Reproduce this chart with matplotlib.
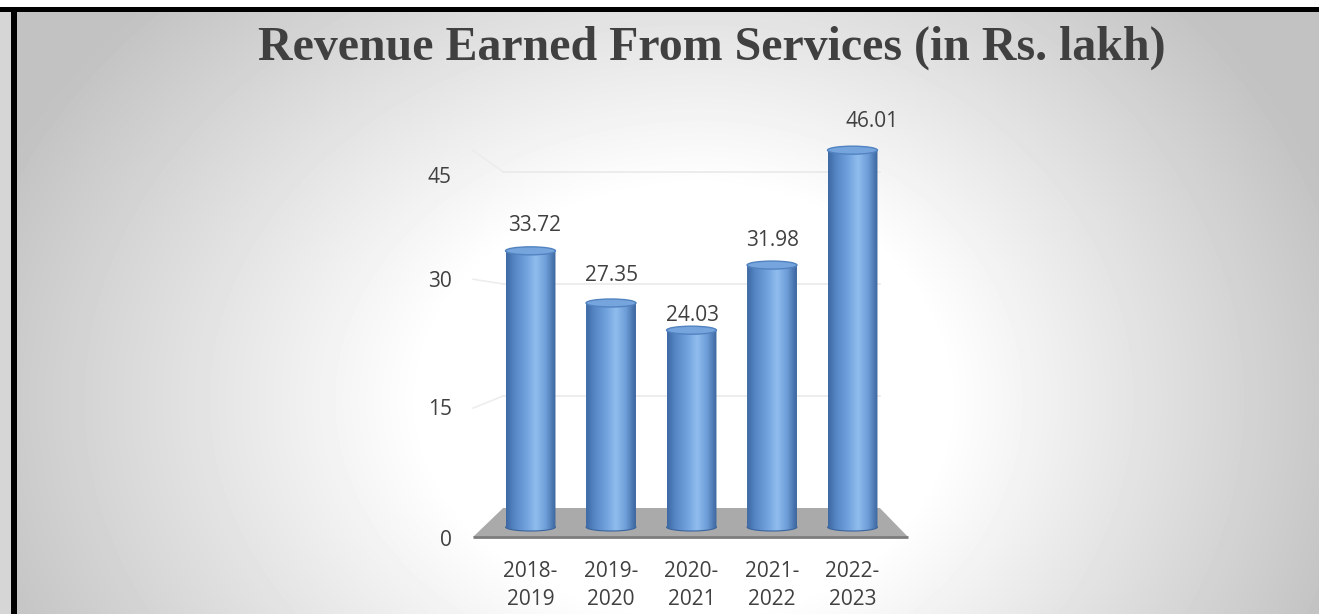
import numpy as np
import matplotlib
matplotlib.use("Agg")
import matplotlib.pyplot as plt
from matplotlib.patches import Ellipse, Polygon, PathPatch, Rectangle
from matplotlib.path import Path
from matplotlib.colors import LinearSegmentedColormap

# ---------------- data ----------------
categories = ["2018-\n2019", "2019-\n2020", "2020-\n2021", "2021-\n2022", "2022-\n2023"]
values = [33.72, 27.35, 24.03, 31.98, 46.01]
value_labels = ["33.72", "27.35", "24.03", "31.98", "46.01"]
y_ticks = [0, 15, 30, 45]
title = "Revenue Earned From Services (in Rs. lakh)"

# ---------------- style / layout ----------------
W, H, DPI = 1319, 614, 100
TEXT = "#404040"
FONT = ["Open Sans", "DejaVu Sans"]
X0_PX, DX_PX = 530.5, 80.5       # pixel x of first category, spacing
Y0_PX, DY_PX = 527.0, 8.19       # pixel y (from top) of value 0, px per unit
XLIM = (-1.2, 5.2)
YLIM = (-3.0, 50.0)
BAR_W = 0.62
ELL_H = 0.98
LABEL_OFFSETS = [(4, 25), (1, 28), (1, 15), (1, 25), (20, 29)]  # pixels
TICK_LABEL_PX = [538, 407, 279, 175]   # perspective position of the value-axis labels
FLOOR_FRONT_X, FLOOR_BACK_X = (-0.714, 4.69), (-0.34, 4.34)
FLOOR_FRONT_Y, FLOOR_BACK_Y = -1.22, 2.32
BACK_SCALE, FRONT_SCALE = 0.912, 1.049

fig = plt.figure(figsize=(W / DPI, H / DPI), dpi=DPI)

# ---------------- background (radial grey gradient) ----------------
bg = fig.add_axes([0, 0, 1, 1], zorder=0)
yy, xx = np.mgrid[0:H, 0:W]
rx = np.where(xx < 700, 680.0, 600.0)
d = np.sqrt(((xx - 700) / rx) ** 2 + ((yy - 400) / 520.0) ** 2)
d0 = 0.41
t = np.clip((d - d0) / (1 - d0), 0, 1.2)
img = 1.0 - 0.2 * t
bg.imshow(img, cmap="gray", vmin=0, vmax=1, extent=[0, W, H, 0],
          aspect="auto", interpolation="bilinear")
bg.set_xlim(0, W)
bg.set_ylim(H, 0)
bg.axis("off")
bg.add_patch(Rectangle((0, 0), W, 7, color="white", lw=0))
bg.add_patch(Rectangle((0, 7), 11, H, color="#d6d6d6", lw=0))
bg.add_patch(Rectangle((0, 7), W, 4.5, color="black", lw=0))
bg.add_patch(Rectangle((11, 7), 5.5, H, color="black", lw=0))

fig.text(711.5 / W, 1 - 60 / H, title, ha="center", va="baseline",
         fontsize=34.5, fontweight="bold", family=["Liberation Serif", "DejaVu Serif"],
         color=TEXT)

# ---------------- main axes ----------------
left_px = X0_PX + XLIM[0] * DX_PX
right_px = X0_PX + XLIM[1] * DX_PX
top_px = Y0_PX - YLIM[1] * DY_PX
bot_px = Y0_PX - YLIM[0] * DY_PX
ax = fig.add_axes([left_px / W, 1 - bot_px / H, (right_px - left_px) / W,
                   (bot_px - top_px) / H], zorder=1)
ax.set_facecolor("none")
for s in ax.spines.values():
    s.set_visible(False)

n = len(values)
xs = np.arange(n)

# back wall gridlines + side wall lines
for v in y_ticks[1:]:
    yb = FLOOR_BACK_Y + v * BACK_SCALE
    yf = FLOOR_FRONT_Y + v * FRONT_SCALE
    ax.plot([FLOOR_BACK_X[0], FLOOR_BACK_X[1]], [yb, yb], color="#e8e8e8", lw=1.1, zorder=1)
    ax.plot([FLOOR_FRONT_X[0], FLOOR_BACK_X[0]], [yf, yb], color="#ececec", lw=1.1, zorder=1)

# floor
floor = Polygon([(FLOOR_FRONT_X[0], FLOOR_FRONT_Y), (FLOOR_FRONT_X[1], FLOOR_FRONT_Y),
                 (FLOOR_BACK_X[1], FLOOR_BACK_Y), (FLOOR_BACK_X[0], FLOOR_BACK_Y)],
                closed=True, facecolor="#aaaaaa", edgecolor="none", zorder=2)
ax.add_patch(floor)
ax.plot(FLOOR_FRONT_X, [FLOOR_FRONT_Y, FLOOR_FRONT_Y], color="#7c7c7c", lw=2.0,
        solid_capstyle="butt", zorder=2)

# cylinders
cyl_cmap = LinearSegmentedColormap.from_list(
    "cyl", [(0.0, "#3d68a3"), (0.15, "#5484c2"), (0.42, "#74a4df"),
            (0.6, "#90bdee"), (0.8, "#6e9ed8"), (1.0, "#3a649d")])
grad = np.linspace(0, 1, 256)[None, :]
theta = np.linspace(np.pi, 2 * np.pi, 60)
for i, v in enumerate(values):
    x = xs[i]
    xl, xr = x - BAR_W / 2, x + BAR_W / 2
    ex = x + (BAR_W / 2) * np.cos(theta)
    ey = (ELL_H / 2) * np.sin(theta)
    verts = [(xl, v), (xl, 0)] + list(zip(ex, ey)) + [(xr, v), (xl, v)]
    codes = [Path.MOVETO] + [Path.LINETO] * (len(verts) - 2) + [Path.CLOSEPOLY]
    body = PathPatch(Path(verts, codes), facecolor="none", edgecolor="none", zorder=3)
    ax.add_patch(body)
    im = ax.imshow(grad, cmap=cyl_cmap, extent=[xl, xr, -ELL_H, v], aspect="auto",
                   interpolation="bilinear", zorder=3)
    im.set_clip_path(body)
    ax.plot(ex, ey, color="#3a659f", lw=0.8, zorder=3.5)
    top = Ellipse((x, v), BAR_W, ELL_H, facecolor="#76a5dd", edgecolor="#5283c0",
                  lw=1.0, zorder=4)
    ax.add_patch(top)
    dx, dy = LABEL_OFFSETS[i]
    ax.annotate(value_labels[i], xy=(x, v), xytext=(dx, dy), textcoords="offset pixels",
                ha="center", va="center", fontsize=15, family=FONT, color=TEXT, zorder=5)

ax.set_xlim(*XLIM)
ax.set_ylim(*YLIM)
ax.set_xticks(xs)
ax.set_xticklabels(categories, fontsize=15, family=FONT, color=TEXT, linespacing=1.4)
ax.tick_params(axis="x", length=0, pad=7)
ax.set_yticks([])

# value axis labels sit on the perspective front edge of the 3-D wall
main_pos = np.array([(Y0_PX - p) / DY_PX for p in TICK_LABEL_PX])
tick_vals = np.array(y_ticks, dtype=float)


def _interp_ext(x, xp, fp):
    x = np.asarray(x, dtype=float)
    out = np.interp(x, xp, fp)
    lo_s = (fp[1] - fp[0]) / (xp[1] - xp[0])
    hi_s = (fp[-1] - fp[-2]) / (xp[-1] - xp[-2])
    out = np.where(x < xp[0], fp[0] + (x - xp[0]) * lo_s, out)
    out = np.where(x > xp[-1], fp[-1] + (x - xp[-1]) * hi_s, out)
    return out


sec = ax.secondary_yaxis("left", functions=(lambda y: _interp_ext(y, main_pos, tick_vals),
                                            lambda y: _interp_ext(y, tick_vals, main_pos)))
sec.set_yticks(y_ticks)
sec.set_yticklabels([str(v) for v in y_ticks], fontsize=15, family=FONT, color=TEXT)
sec.tick_params(axis="y", length=0, pad=-13)
for s in sec.spines.values():
    s.set_visible(False)

fig.savefig("out.png", dpi=DPI)
